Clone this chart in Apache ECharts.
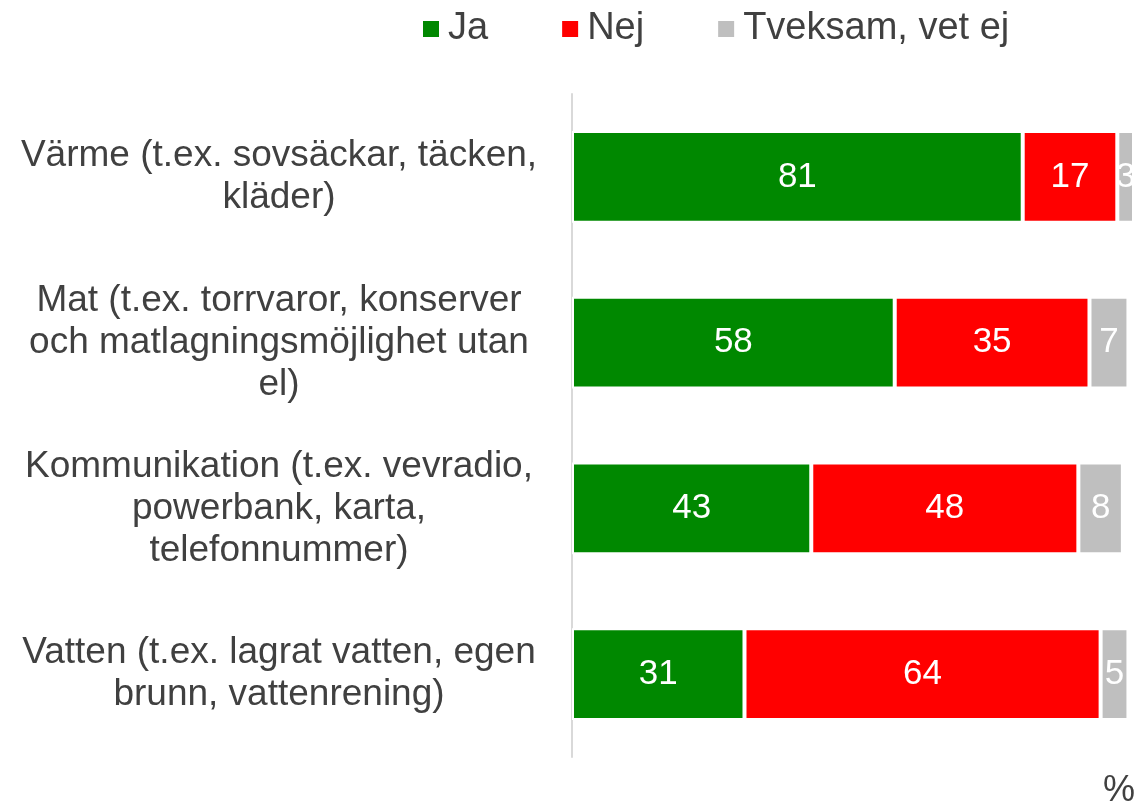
<!DOCTYPE html>
<html>
<head>
<meta charset="utf-8">
<script src="https://cdn.jsdelivr.net/npm/echarts@6/dist/echarts.min.js"></script>
<style>
  html, body { margin: 0; padding: 0; background: #fff; }
  #chart { width: 1140px; height: 806px; }
</style>
</head>
<body>
<div id="chart"></div>
<script>
var categories = [
  'Värme (t.ex. sovsäckar, täcken,\nkläder)',
  'Mat (t.ex. torrvaror, konserver\noch matlagningsmöjlighet utan\nel)',
  'Kommunikation (t.ex. vevradio,\npowerbank, karta,\ntelefonnummer)',
  'Vatten (t.ex. lagrat vatten, egen\nbrunn, vattenrening)'
];
var ja = [81, 58, 43, 31];
var nej = [17, 35, 48, 64];
var tveksam = [3, 7, 8, 5];
var seriesNames = ['Ja', 'Nej', 'Tveksam, vet ej'];
var colors = ['#008800', '#ff0000', '#bfbfbf'];

var chart = echarts.init(document.getElementById('chart'));
var font = 'Liberation Sans, Arial, sans-serif';

function makeSeries(name, data, color) {
  return {
    name: name,
    type: 'bar',
    stack: 'total',
    barWidth: '55.5%',
    data: data,
    itemStyle: { color: color, borderColor: '#fff', borderWidth: 2 },
    label: {
      show: true,
      color: '#fff',
      fontSize: 35,
      fontFamily: font
    }
  };
}

var option = {
  animation: false,
  color: colors,
  legend: {
    top: 5,
    left: 418,
    itemWidth: 16,
    itemHeight: 16,
    itemGap: 74,
    icon: 'rect',
    itemStyle: { borderWidth: 0 },
    textStyle: { color: '#404040', fontSize: 38, fontFamily: font, padding: [0, 0, 0, 4] },
    data: seriesNames
  },
  grid: { left: 572, right: 6, top: 94, bottom: 49, containLabel: false },
  xAxis: {
    type: 'value',
    min: 0,
    max: 101,
    show: false
  },
  yAxis: {
    type: 'category',
    inverse: true,
    data: categories,
    axisLine: { show: true, lineStyle: { color: '#d9d9d9', width: 2 } },
    axisTick: { show: false },
    axisLabel: {
      align: 'center',
      margin: 293,
      color: '#404040',
      fontSize: 37,
      lineHeight: 42,
      fontFamily: font,
      padding: [4, 0, 0, 0]
    }
  },
  series: [
    makeSeries(seriesNames[0], ja, colors[0]),
    makeSeries(seriesNames[1], nej, colors[1]),
    makeSeries(seriesNames[2], tveksam, colors[2])
  ],
  graphic: [{
    type: 'text',
    right: 5,
    top: 773,
    style: { text: '%', fill: '#404040', fontSize: 36, fontFamily: font }
  }]
};

chart.setOption(option);
</script>
</body>
</html>
